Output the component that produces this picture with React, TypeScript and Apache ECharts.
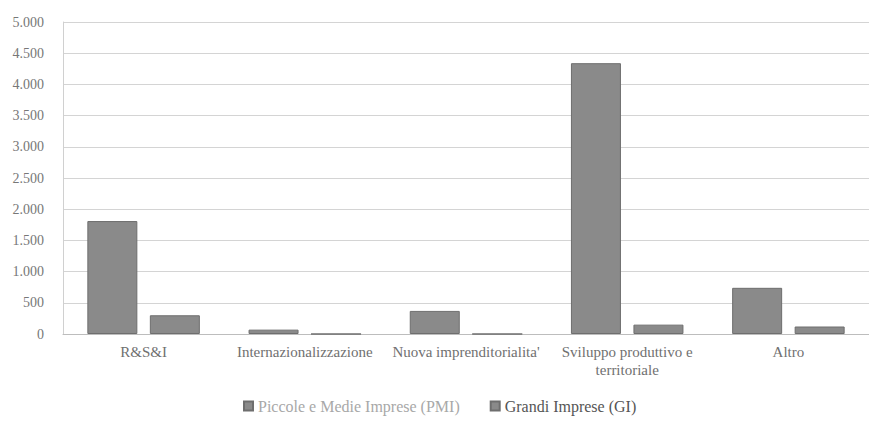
import React, { useEffect, useRef } from "react";
import * as echarts from "echarts";

const categories = [
  "R&S&I",
  "Internazionalizzazione",
  "Nuova imprenditorialita'",
  "Sviluppo produttivo e\nterritoriale",
  "Altro",
];
const pmiValues = [1810, 70, 370, 4340, 740];
const giValues = [300, 0, 0, 150, 120];
const seriesNames = ["Piccole e Medie Imprese (PMI)", "Grandi Imprese (GI)"];

const fmt = (v: number) => String(v).replace(/\B(?=(\d{3})+(?!\d))/g, ".");

export default function App() {
  const ref = useRef<HTMLDivElement>(null);
  useEffect(() => {
    const chart = echarts.init(ref.current!, undefined, { renderer: "svg" });
    const font = "Liberation Serif, serif";
    const barStyle = {
      color: "#8a8a8a",
      borderColor: "#6e6e6e",
      borderWidth: 1,
    };
    chart.setOption({
      animation: false,
      backgroundColor: "#ffffff",
      textStyle: { fontFamily: font },
      grid: { left: 63, top: 22, width: 815, height: 312, containLabel: false },
      legend: {
        top: 398,
        left: 243,
        itemWidth: 9,
        itemHeight: 9,
        itemGap: 30,
        padding: 0,
        icon: "rect",
        data: [
          { name: seriesNames[0], textStyle: { color: "#a8a8a8", fontFamily: font, fontSize: 16 } },
          { name: seriesNames[1], textStyle: { color: "#555555", fontFamily: font, fontSize: 16 } },
        ],
        textStyle: { fontFamily: font, fontSize: 16 },
      },
      xAxis: {
        type: "category",
        data: categories,
        axisLine: { lineStyle: { color: "#bdbdbd" } },
        axisTick: { show: false },
        axisLabel: {
          color: "#707070",
          fontFamily: font,
          fontSize: 15,
          interval: 0,
          margin: 9,
          lineHeight: 18,
        },
      },
      yAxis: {
        type: "value",
        min: 0,
        max: 5000,
        interval: 500,
        axisLine: { show: true, lineStyle: { color: "#d0d0d0" } },
        axisTick: { show: false },
        splitLine: { lineStyle: { color: "#d4d4d4" } },
        axisLabel: {
          color: "#777777",
          fontFamily: font,
          fontSize: 14,
          margin: 19,
          formatter: (v: number) => fmt(v),
        },
      },
      series: [
        {
          name: seriesNames[0],
          type: "bar",
          data: pmiValues,
          barWidth: 50,
          barGap: "25%",
          itemStyle: barStyle,
        },
        {
          name: seriesNames[1],
          type: "bar",
          data: giValues,
          barWidth: 50,
          itemStyle: barStyle,
        },
      ],
    });
    return () => chart.dispose();
  }, []);
  return (
    <div
      ref={ref}
      style={{ position: "absolute", left: 0, top: 0, width: 869, height: 423 }}
    />
  );
}
